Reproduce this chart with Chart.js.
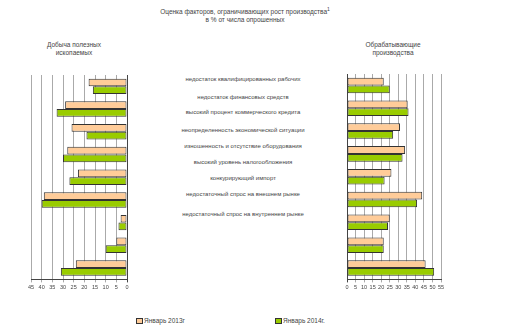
<!DOCTYPE html>
<html>
<head>
<meta charset="utf-8">
<script src="https://cdn.jsdelivr.net/npm/chart.js@4"></script>
<style>
  body { margin: 0; width: 510px; height: 333px; background: #fff; position: relative; overflow: hidden;
         font-family: "Liberation Sans", Arial, sans-serif; color: #444; }
  .t { position: absolute; white-space: nowrap; font-size: 6.5px; text-align: center; transform: translateX(-50%); line-height: 8px; }
  .lbl { position: absolute; white-space: nowrap; font-size: 6px; transform: translate(-50%, -50%); left: 243px; }
  .leg { position: absolute; font-size: 6.5px; white-space: nowrap; top: 317px; }
  .leg span { display: inline-block; width: 5px; height: 4px; border: 1px solid #333; margin-right: 1px; vertical-align: -1px; }
  canvas { position: absolute; }
</style>
</head>
<body>
<div class="t" style="left:245px; top:5px;">Оценка факторов, ограничивающих рост производства<sup style="font-size:5px">1</sup></div>
<div class="t" style="left:245px; top:16px;">в % от числа опрошенных</div>
<div class="t" style="left:74px; top:41px;">Добыча полезных<br>ископаемых</div>
<div class="t" style="left:393px; top:41px;">Обрабатывающие<br>производства</div>
<div id="labels"></div>
<div class="leg" style="left:136px;"><span style="background:#FFCC99"></span>Январь 2013г</div>
<div class="leg" style="left:275px;"><span style="background:#99CC00"></span>Январь 2014г.</div>

<div style="position:absolute;left:0;top:60px;width:140px;height:240px;"><canvas id="left"></canvas></div>
<div style="position:absolute;left:330px;top:60px;width:180px;height:240px;"><canvas id="right"></canvas></div>

<script>
// факторы
const factors = [
  'недостаток квалифицированных рабочих',
  'недостаток финансовых средств',
  'высокий процент коммерческого кредита',
  'неопределенность экономической ситуации',
  'изношенность и отсутствие оборудования',
  'высокий уровень налогообложения',
  'конкурирующий импорт',
  'недостаточный спрос на внешнем рынке',
  'недостаточный спрос на внутреннем рынке'
];
const labelTops = [79, 97, 112, 130, 146, 162, 178, 194, 214];

// Добыча полезных ископаемых
const mining2013 = [18, 29, 26, 28, 23, 39, 3, 5, 24];
const mining2014 = [16, 33, 19, 30, 27, 40, 4, 10, 31];

// Обрабатывающие производства
const manuf2013 = [21.5, 35.5, 31, 34, 26, 44, 25, 21.5, 46];
const manuf2014 = [25, 36, 27, 32.5, 22, 41, 24, 21.5, 51];

const leftTicks = { min: 0, max: 45, step: 5 };
const rightTicks = { min: 0, max: 55, step: 5 };

const box = document.getElementById('labels');
factors.forEach((f, i) => {
  const d = document.createElement('div');
  d.className = 'lbl';
  d.style.top = labelTops[i] + 'px';
  d.textContent = f;
  box.appendChild(d);
});

function makeChart(id, a, b, ticks, reverse, pad) {
  const ctx = document.getElementById(id).getContext('2d');
  return new Chart(ctx, {
    type: 'bar',
    data: {
      labels: factors,
      datasets: [
        { label: 'Январь 2013г', data: a, backgroundColor: '#FFCC99', borderColor: '#333', borderWidth: 1, borderSkipped: false },
        { label: 'Январь 2014г.', data: b, backgroundColor: '#99CC00', borderColor: '#333', borderWidth: 1, borderSkipped: false }
      ]
    },
    options: {
      indexAxis: 'y',
      responsive: true,
      maintainAspectRatio: false,
      animation: false,
      layout: { padding: pad },
      categoryPercentage: 0.68,
      barPercentage: 1,
      plugins: { legend: { display: false }, tooltip: { enabled: false } },
      scales: {
        x: {
          reverse: reverse,
          min: ticks.min, max: ticks.max,
          ticks: { stepSize: ticks.step, autoSkip: false, color: '#444', font: { size: 5.5, family: 'Liberation Sans' }, padding: 2, maxRotation: 0 },
          grid: {
            color: c => c.tick && c.tick.value === 0 ? '#444' : '#aaa',
            tickLength: 3
          },
          border: { color: '#444' }
        },
        y: { display: false }
      }
    }
  });
}

makeChart('left', mining2013, mining2014, leftTicks, true, { left: 31, right: 13, top: 15, bottom: 7 });
makeChart('right', manuf2013, manuf2014, rightTicks, false, { left: 17, right: 69, top: 14, bottom: 7 });
</script>
</body>
</html>
